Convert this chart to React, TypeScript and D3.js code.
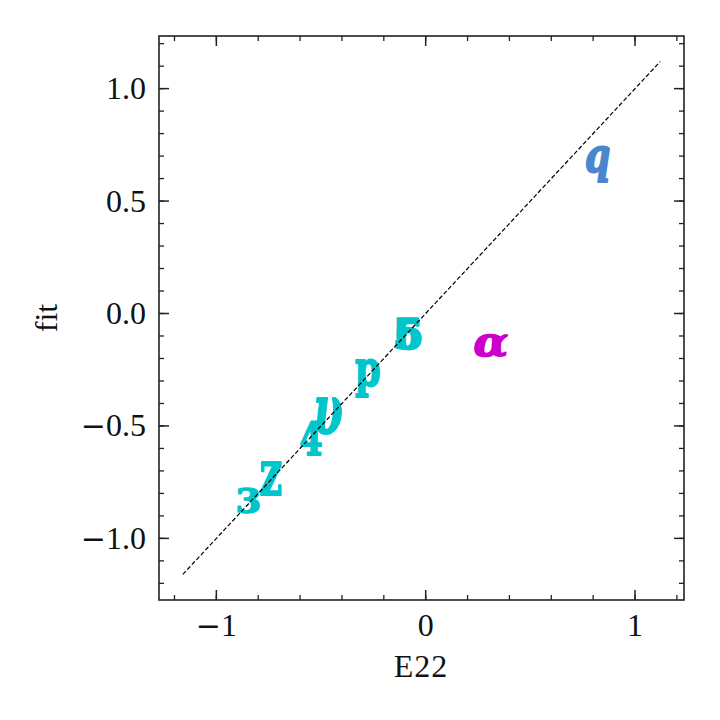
import React from "react";
import * as d3 from "d3";

const glyphs = ["3", "z", "4", "υ", "p", "5", "6", "q", "α"];
const xValues = [-0.847, -0.739, -0.548, -0.462, -0.278, -0.082, -0.082, 0.821, 0.31];
const yValues = [-0.831, -0.731, -0.553, -0.457, -0.285, -0.089, -0.092, 0.666, -0.143];
const groups = ["a", "a", "a", "a", "a", "a", "a", "b", "c"];
const italicGlyphs = ["υ", "q", "α"];
const lineRange = [-1.16, 1.12];
const xTicks = [-1, 0, 1];
const yTicks = [-1.0, -0.5, 0.0, 0.5, 1.0];
const xTickLabels = ["−1", "0", "1"];
const yTickLabels = ["−1.0", "−0.5", "0.0", "0.5", "1.0"];

// marker glyph box sizes (style), width and height in px
const markW = [23, 22, 22, 28, 25, 27, 25, 25, 35];
const markH = [27, 35, 35, 37, 39, 33, 31, 38, 25];

const groupColor: Record<string, string> = { a: "#00C6CC", b: "#4A86CF", c: "#CC00CC" };

const W = 720, H = 720;
const L = 159, R = 684, T = 36, B = 600;
const FONT = "'Liberation Serif', 'DejaVu Serif', serif";

function measure(g: string, font: string) {
  const c = document.createElement("canvas");
  const ctx = c.getContext("2d")!;
  ctx.font = font;
  const m = ctx.measureText(g);
  return {
    left: m.actualBoundingBoxLeft,
    right: m.actualBoundingBoxRight,
    asc: m.actualBoundingBoxAscent,
    desc: m.actualBoundingBoxDescent,
  };
}

function TickText({ s }: { s: string }) {
  if (s.startsWith("−")) {
    return (
      <>
        <tspan fontFamily="'DejaVu Serif'" fontWeight={300} fontSize={30}>−</tspan>
        <tspan>{s.slice(1)}</tspan>
      </>
    );
  }
  return <>{s}</>;
}

export default function App() {
  const x = d3.scaleLinear().domain([-1.274, 1.234]).range([L, R]);
  const y = d3.scaleLinear().domain([-1.274, 1.234]).range([B, T]);
  const xMinor = d3.range(-12, 13, 2).map((v) => v / 10).filter((v) => v >= -1.274 && v <= 1.234);
  const yMinor = d3.range(-12, 13, 1).map((v) => v / 10).filter((v) => v >= -1.274 && v <= 1.234);

  const marks = glyphs.map((g, i) => {
    const italic = italicGlyphs.includes(g);
    const font = `${italic ? "italic " : ""}bold 100px "DejaVu Serif"`;
    const m = measure(g, font);
    const w = Math.max(1, m.left + m.right);
    const h = Math.max(1, m.asc + m.desc);
    const sx = (markW[i] - 1.5) / w;
    const sy = (markH[i] - 1.5) / h;
    const cx = x(xValues[i]);
    const cy = y(yValues[i]);
    const dx = -(m.right - m.left) / 2;
    const dy = -(m.desc - m.asc) / 2;
    const col = groupColor[groups[i]];
    return (
      <text
        key={i}
        transform={`translate(${cx},${cy}) scale(${sx},${sy}) translate(${dx},${dy})`}
        fontFamily="DejaVu Serif"
        fontWeight="bold"
        fontStyle={italic ? "italic" : "normal"}
        fontSize={100}
        fill={col}
        stroke={col}
        strokeWidth={1.6}
        vectorEffect="non-scaling-stroke"
        strokeLinejoin="round"
      >
        {g}
      </text>
    );
  });

  const tickStroke = "#222";
  return (
    <svg width={W} height={H} style={{ position: "absolute", left: 0, top: 0 }}>
      <rect x={0} y={0} width={W} height={H} fill="white" />
      {marks}
      <line
        x1={x(lineRange[0])}
        y1={y(lineRange[0])}
        x2={x(lineRange[1])}
        y2={y(lineRange[1])}
        stroke="black"
        strokeWidth={1.2}
        strokeDasharray="4.4,2.2"
      />
      {xMinor.map((v, i) => (
        <g key={"xm" + i} stroke={tickStroke} strokeWidth={1.3}>
          <line x1={x(v)} x2={x(v)} y1={B} y2={B - 5} />
          <line x1={x(v)} x2={x(v)} y1={T} y2={T + 5} />
        </g>
      ))}
      {yMinor.map((v, i) => (
        <g key={"ym" + i} stroke={tickStroke} strokeWidth={1.3}>
          <line x1={L} x2={L + 5} y1={y(v)} y2={y(v)} />
          <line x1={R} x2={R - 5} y1={y(v)} y2={y(v)} />
        </g>
      ))}
      {xTicks.map((v, i) => (
        <g key={"xt" + i}>
          <line x1={x(v)} x2={x(v)} y1={B} y2={B - 10} stroke={tickStroke} strokeWidth={1.5} />
          <line x1={x(v)} x2={x(v)} y1={T} y2={T + 10} stroke={tickStroke} strokeWidth={1.5} />
          <text x={x(v)} y={636} textAnchor="middle" fontFamily={FONT} fontSize={32} fill="#111">
            <TickText s={xTickLabels[i]} />
          </text>
        </g>
      ))}
      {yTicks.map((v, i) => (
        <g key={"yt" + i}>
          <line x1={L} x2={L + 10} y1={y(v)} y2={y(v)} stroke={tickStroke} strokeWidth={1.5} />
          <line x1={R} x2={R - 10} y1={y(v)} y2={y(v)} stroke={tickStroke} strokeWidth={1.5} />
          <text x={146} y={y(v) + 10.5} textAnchor="end" fontFamily={FONT} fontSize={32} fill="#111">
            <TickText s={yTickLabels[i]} />
          </text>
        </g>
      ))}
      <rect x={L} y={T} width={R - L} height={B - T} fill="none" stroke={tickStroke} strokeWidth={1.6} />
      <text x={421} y={677} textAnchor="middle" fontFamily={FONT} fontSize={32} fill="#111" letterSpacing={1}>
        E22
      </text>
      <text
        transform={`translate(57, 318) rotate(-90)`}
        textAnchor="middle"
        fontFamily={FONT}
        fontSize={32}
        fill="#111"
      >
        fit
      </text>
    </svg>
  );
}
